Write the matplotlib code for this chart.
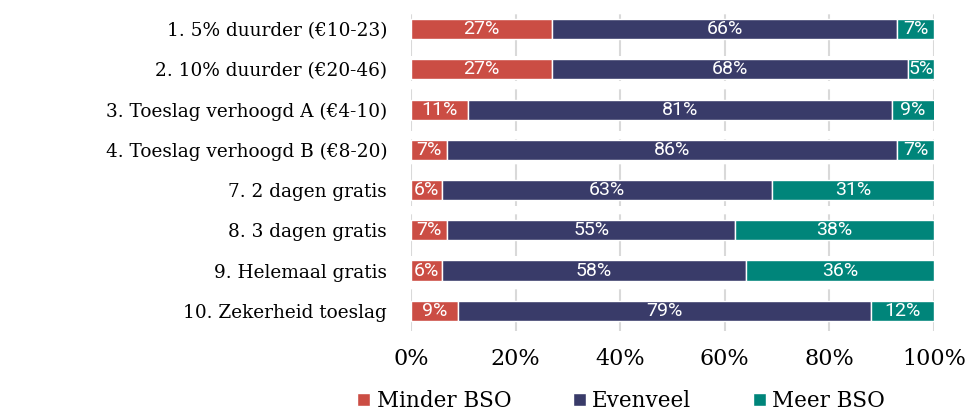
import matplotlib
matplotlib.use("Agg")
import matplotlib.pyplot as plt
import numpy as np

# ----------------------------
# DATA
# ----------------------------
categories = [
    "1. 5% duurder (€10-23)",
    "2. 10% duurder (€20-46)",
    "3. Toeslag verhoogd A (€4-10)",
    "4. Toeslag verhoogd B (€8-20)",
    "7. 2 dagen gratis",
    "8. 3 dagen gratis",
    "9. Helemaal gratis",
    "10. Zekerheid toeslag",
]
minder = [27, 27, 11, 7, 6, 7, 6, 9]
evenveel = [66, 68, 81, 86, 63, 55, 58, 79]
meer = [7, 5, 9, 7, 31, 38, 36, 12]
series_names = ["Minder BSO", "Evenveel", "Meer BSO"]
colors = ["#cb4d44", "#393b69", "#00857a"]
xticks = [0, 20, 40, 60, 80, 100]

# ----------------------------
# PLOT
# ----------------------------
fig = plt.figure(figsize=(9.69, 4.11), dpi=100)
ax = fig.add_axes([0.424, 0.195, 0.540, 0.783])

y = np.arange(len(categories))
left = np.zeros(len(categories))
for vals, name, col in zip([minder, evenveel, meer], series_names, colors):
    bars = ax.barh(y, vals, left=left, height=0.5, color=col, edgecolor="white",
                   linewidth=1.0, label=name, zorder=3)
    ax.bar_label(bars, labels=[f"{v}%" for v in vals], label_type="center",
                 color="white", fontsize=14, fontfamily="Roboto")
    left += np.array(vals)

ax.set_xlim(0, 100)
ax.set_ylim(len(categories) - 0.5, -0.5)
ax.set_yticks(y)
ax.set_yticklabels(categories, fontfamily="DejaVu Serif", fontsize=13.3)
ax.set_xticks(xticks)
ax.set_xticklabels([f"{t}%" for t in xticks], fontfamily="DejaVu Serif", fontsize=16)
ax.tick_params(axis="y", length=0, pad=17)
ax.tick_params(axis="x", length=0, pad=12)
ax.grid(axis="x", color="#d9d9d9", linestyle=(0, (8, 4)), linewidth=1.5, zorder=0)
for s in ax.spines.values():
    s.set_visible(False)

fig.legend(loc="center", bbox_to_anchor=(0.641, 0.024), ncol=3, frameon=False,
           prop={"family": "DejaVu Serif", "size": 15.5}, handlelength=0.6,
           handleheight=0.6, handletextpad=0.3, columnspacing=2.85)

plt.savefig("out.png", dpi=100)
plt.close()
